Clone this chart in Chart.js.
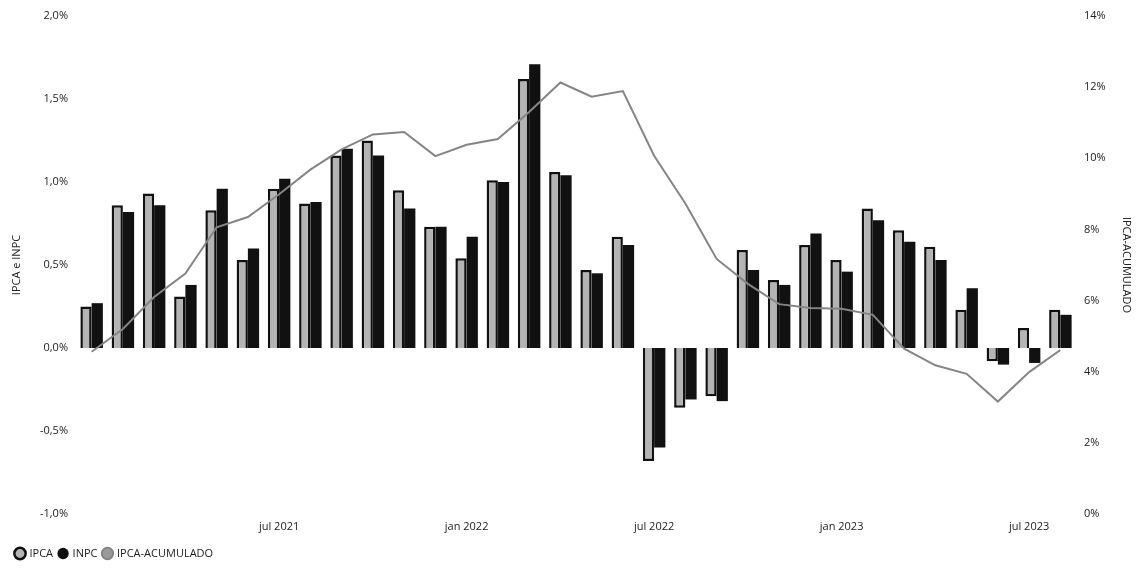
<!DOCTYPE html>
<html>
<head>
<meta charset="utf-8">
<script src="https://cdn.jsdelivr.net/npm/chart.js@4"></script>
<style>
  html, body { margin: 0; padding: 0; background: #fff; }
  #wrap { width: 1139px; height: 572px; }
</style>
</head>
<body>
<div id="wrap"><canvas id="chart"></canvas></div>
<script>
const months = [
  'jan 2021', 'fev 2021', 'mar 2021', 'abr 2021', 'mai 2021', 'jun 2021',
  'jul 2021', 'ago 2021', 'set 2021', 'out 2021', 'nov 2021', 'dez 2021',
  'jan 2022', 'fev 2022', 'mar 2022', 'abr 2022', 'mai 2022', 'jun 2022',
  'jul 2022', 'ago 2022', 'set 2022', 'out 2022', 'nov 2022', 'dez 2022',
  'jan 2023', 'fev 2023', 'mar 2023', 'abr 2023', 'mai 2023', 'jun 2023',
  'jul 2023', 'ago 2023'
];
const shownLabels = ['jul 2021', 'jan 2022', 'jul 2022', 'jan 2023', 'jul 2023'];

const ipca = [
  0.25, 0.86, 0.93, 0.31, 0.83, 0.53, 0.96, 0.87, 1.16, 1.25, 0.95, 0.73,
  0.54, 1.01, 1.62, 1.06, 0.47, 0.67, -0.68, -0.36, -0.29, 0.59, 0.41, 0.62,
  0.53, 0.84, 0.71, 0.61, 0.23, -0.08, 0.12, 0.23
];
const inpc = [
  0.27, 0.82, 0.86, 0.38, 0.96, 0.60, 1.02, 0.88, 1.20, 1.16, 0.84, 0.73,
  0.67, 1.00, 1.71, 1.04, 0.45, 0.62, -0.60, -0.31, -0.32, 0.47, 0.38, 0.69,
  0.46, 0.77, 0.64, 0.53, 0.36, -0.10, -0.09, 0.20
];
const ipcaAcumulado = [
  4.56, 5.20, 6.10, 6.76, 8.06, 8.35, 8.99, 9.68, 10.25, 10.67, 10.74, 10.06,
  10.38, 10.54, 11.30, 12.13, 11.73, 11.89, 10.07, 8.73, 7.17, 6.47, 5.90, 5.79,
  5.77, 5.60, 4.65, 4.18, 3.94, 3.16, 3.99, 4.61
];

const font = { family: '"Open Sans", "DejaVu Sans", sans-serif', size: 11 };
const textColor = '#222';

new Chart(document.getElementById('chart'), {
  type: 'bar',
  data: {
    labels: months,
    datasets: [
      {
        label: 'IPCA',
        data: ipca,
        yAxisID: 'y',
        backgroundColor: '#b4b4b4',
        borderColor: '#111',
        borderWidth: 2.5,
        categoryPercentage: 0.72,
        barPercentage: 1.0,
        order: 2
      },
      {
        label: 'INPC',
        data: inpc,
        yAxisID: 'y',
        backgroundColor: '#111',
        borderColor: '#111',
        borderWidth: 0,
        categoryPercentage: 0.72,
        barPercentage: 1.0,
        order: 2
      },
      {
        type: 'line',
        label: 'IPCA-ACUMULADO',
        data: ipcaAcumulado,
        yAxisID: 'y1',
        borderColor: '#858585',
        backgroundColor: '#9a9a9a',
        borderWidth: 2,
        pointRadius: 0,
        tension: 0,
        order: 1
      }
    ]
  },
  options: {
    responsive: true,
    maintainAspectRatio: false,
    animation: false,
    layout: { padding: { top: 16, right: 6, bottom: 3, left: 10 } },
    plugins: {
      tooltip: { enabled: false },
      legend: {
        position: 'bottom',
        align: 'start',
        labels: {
          usePointStyle: true,
          pointStyle: 'circle',
          boxWidth: 8,
          boxHeight: 8,
          padding: 6,
          color: textColor,
          font: font,
          sort: (a, b) => a.datasetIndex - b.datasetIndex
        }
      }
    },
    scales: {
      x: {
        grid: { display: false, drawTicks: false },
        border: { display: false },
        ticks: {
          autoSkip: false,
          maxRotation: 0,
          color: textColor,
          font: font,
          padding: 6,
          callback: function (value, index) {
            const lab = months[index];
            return shownLabels.includes(lab) ? lab : '';
          }
        },
        afterFit: function (scale) { scale.height = 28; }
      },
      y: {
        position: 'left',
        min: -1,
        max: 2,
        grid: { display: false, drawTicks: false },
        border: { display: false },
        ticks: {
          stepSize: 0.5,
          color: textColor,
          font: font,
          padding: 8,
          callback: v => v.toFixed(1).replace('.', ',') + '%'
        },
        title: {
          display: true,
          text: 'IPCA e INPC',
          color: textColor,
          font: font,
          padding: 0
        },
        afterFit: function (scale) { scale.width = 66; }
      },
      y1: {
        position: 'right',
        min: 0,
        max: 14,
        grid: { display: false, drawTicks: false },
        border: { display: false },
        ticks: {
          stepSize: 2,
          color: textColor,
          font: font,
          padding: 8,
          callback: v => v + '%'
        },
        title: {
          display: true,
          text: 'IPCA-ACUMULADO',
          color: textColor,
          font: font,
          padding: 0
        },
        afterFit: function (scale) { scale.width = 57; }
      }
    }
  }
});
</script>
</body>
</html>
